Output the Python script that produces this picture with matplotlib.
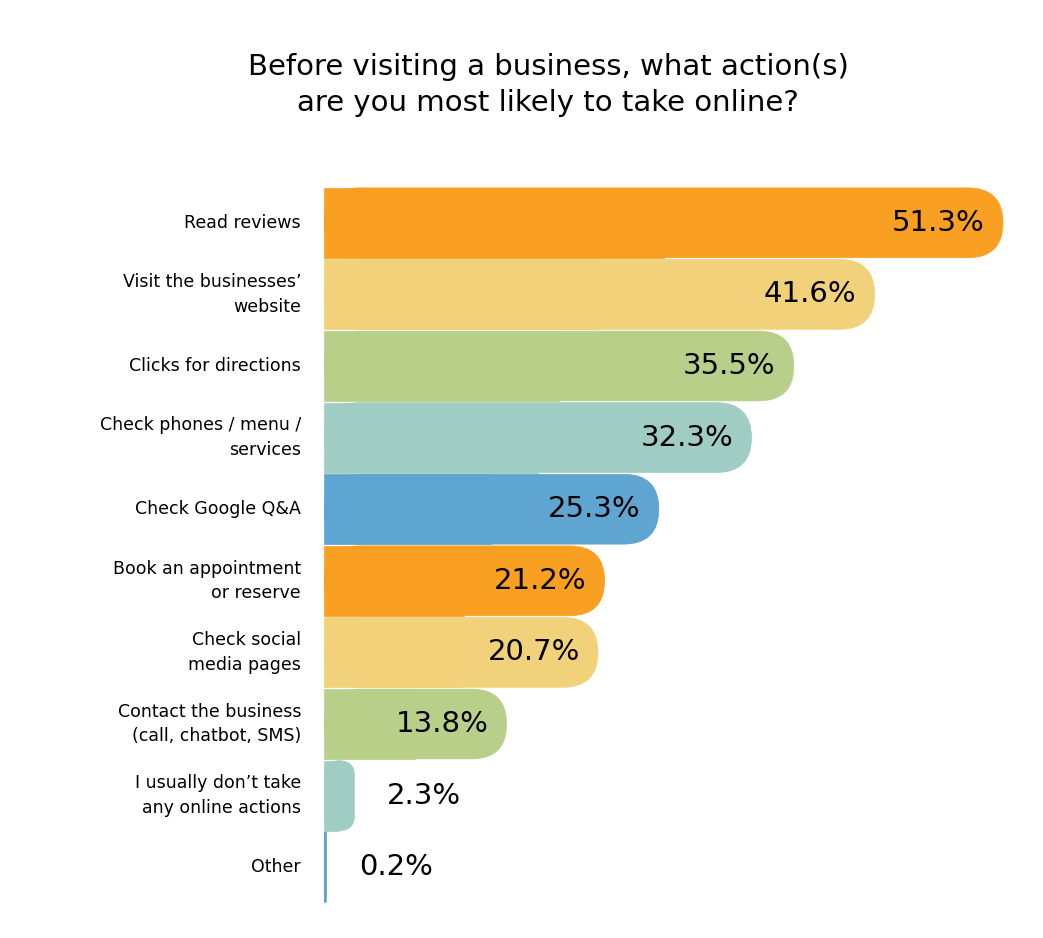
import matplotlib.pyplot as plt
from matplotlib.patches import FancyBboxPatch, Rectangle

plt.rcParams['font.family'] = ['DejaVu Sans']

labels = ["Read reviews", "Visit the businesses’\nwebsite", "Clicks for directions",
          "Check phones / menu /\nservices", "Check Google Q&A",
          "Book an appointment\nor reserve", "Check social\nmedia pages",
          "Contact the business\n(call, chatbot, SMS)",
          "I usually don’t take\nany online actions", "Other"]
values = [51.3, 41.6, 35.5, 32.3, 25.3, 21.2, 20.7, 13.8, 2.3, 0.2]
colors = ["#F99F22", "#F1D27A", "#B8CF8A", "#A0CDC3", "#5EA6D1"] * 2

fig = plt.figure(figsize=(10.43, 9.38), dpi=100)
left, right = 324, 1043
top, bottom = 187, 903
ax = fig.add_axes([left / 1043, 1 - bottom / 938, (right - left) / 1043, (bottom - top) / 938])
px_per_pct = 679 / 51.3
xmax = (right - left) / px_per_pct
ax.set_xlim(0, xmax)
ax.set_ylim(len(values) - 0.5, -0.5)
ax.axis('off')

row_px = (bottom - top) / len(values)
h = 0.975
aspect = px_per_pct / row_px
for i, (v, c) in enumerate(zip(values, colors)):
    wpx = v * px_per_pct
    r_px = min(35, wpx / 2)
    r = r_px / px_per_pct
    ax.add_patch(FancyBboxPatch((0, i - h / 2), v, h,
                                boxstyle=f"round,pad=0,rounding_size={r}",
                                mutation_aspect=aspect, fc=c, ec=c, lw=0.5))
    ax.add_patch(Rectangle((0, i - h / 2), v / 2, h, fc=c, ec=c, lw=0.5))
    txt = f"{v}%"
    if v > 10:
        ax.text(v - 18 / px_per_pct, i, txt, ha='right', va='center', fontsize=21)
    else:
        ax.text(v + 32 / px_per_pct, i, txt, ha='left', va='center', fontsize=21)
    fig.text(301 / 1043, 1 - (top + row_px * (i + 0.5)) / 938, labels[i],
             ha='right', va='center', fontsize=12.5, linespacing=1.45)

fig.text(548 / 1043, 1 - 85 / 938,
         "Before visiting a business, what action(s)\nare you most likely to take online?",
         ha='center', va='center', fontsize=21, linespacing=1.35)

fig.savefig("out.png", dpi=100)
